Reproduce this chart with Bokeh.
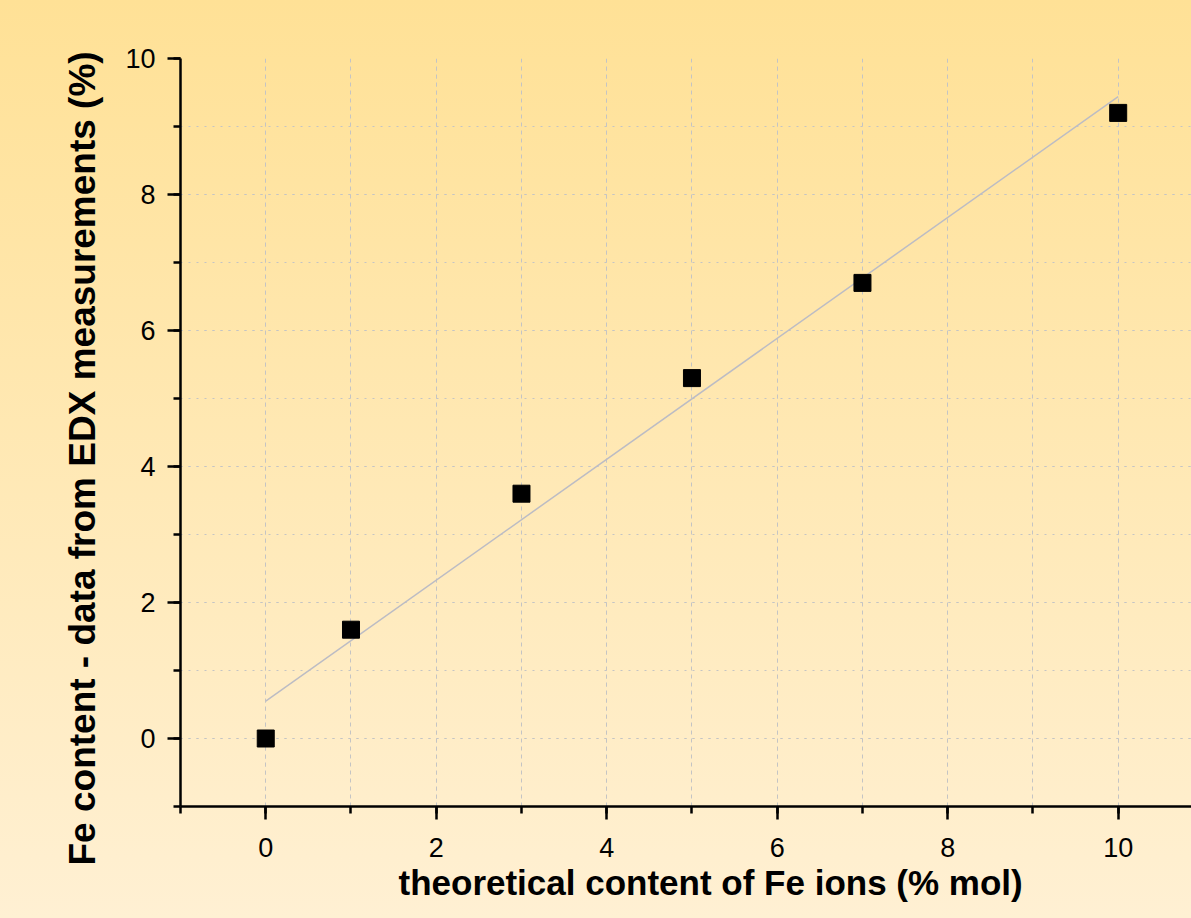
from bokeh.plotting import figure
from bokeh.models import Range1d, SingleIntervalTicker, ColumnDataSource, Title
from bokeh.embed import file_html
from bokeh.resources import INLINE

# data
theoretical_fe = [0, 1, 3, 5, 7, 10]
edx_fe = [0.0, 1.6, 3.6, 5.3, 6.7, 9.2]
fit_x = [0, 10]
fit_y = [0.55, 9.44]

x_label = "theoretical content of Fe ions (% mol)"
y_label = "Fe content - data from EDX measurements (%)"

FONT = "Liberation Sans"

p = figure(width=1191, height=918, output_backend="svg", toolbar_location=None,
           x_range=Range1d(-1, 10.86), y_range=Range1d(-1, 10),
           min_border_left=180, min_border_right=0, min_border_top=58, min_border_bottom=112,
           border_fill_color=None, background_fill_color=None, outline_line_color=None)
p.styles = {"background": "linear-gradient(to bottom, #FFE196 0%, #FFF0D3 100%)"}

# fit line and points
p.line(fit_x, fit_y, line_color="#BCBCC4", line_width=1.5)
src = ColumnDataSource(dict(x=theoretical_fe, y=edx_fe))
p.scatter("x", "y", source=src, marker="square", size=17, fill_color="black", line_color="black")

for ax in (p.xaxis[0], p.yaxis[0]):
    ax.ticker = SingleIntervalTicker(interval=2, num_minor_ticks=2)
    ax.axis_line_width = 2.5
    ax.axis_line_color = "black"
    ax.major_tick_line_width = 2.5
    ax.minor_tick_line_width = 2.5
    ax.major_tick_in = 0
    ax.major_tick_out = 13
    ax.minor_tick_in = 0
    ax.minor_tick_out = 7
    ax.major_label_text_font = FONT
    ax.major_label_text_font_size = "27px"
    ax.major_label_text_color = "black"

p.xaxis.major_label_standoff = 18
p.yaxis.major_label_standoff = 12

# axis titles as side titles, positioned like in the reference
p.add_layout(Title(text=x_label, align="left", offset=218, standoff=2,
                   text_font=FONT, text_font_style="bold", text_font_size="35px",
                   text_color="black"), "below")
p.add_layout(Title(text=y_label, align="left", offset=-59, standoff=39,
                   text_font=FONT, text_font_style="bold", text_font_size="37px",
                   text_color="black"), "left")

p.xgrid.ticker = SingleIntervalTicker(interval=2, num_minor_ticks=2)
p.ygrid.ticker = SingleIntervalTicker(interval=2, num_minor_ticks=2)
p.xgrid.grid_line_color = "#C4C4C4"
p.xgrid.grid_line_dash = "2 6"
p.xgrid.minor_grid_line_color = "#C4C4C4"
p.xgrid.minor_grid_line_dash = "4 4"
p.ygrid.grid_line_color = "#C4C4C4"
p.ygrid.grid_line_dash = "2 6"
p.ygrid.minor_grid_line_color = "#C4C4C4"
p.ygrid.minor_grid_line_dash = "2 6"

open("out.html", "w").write(file_html(p, INLINE))
